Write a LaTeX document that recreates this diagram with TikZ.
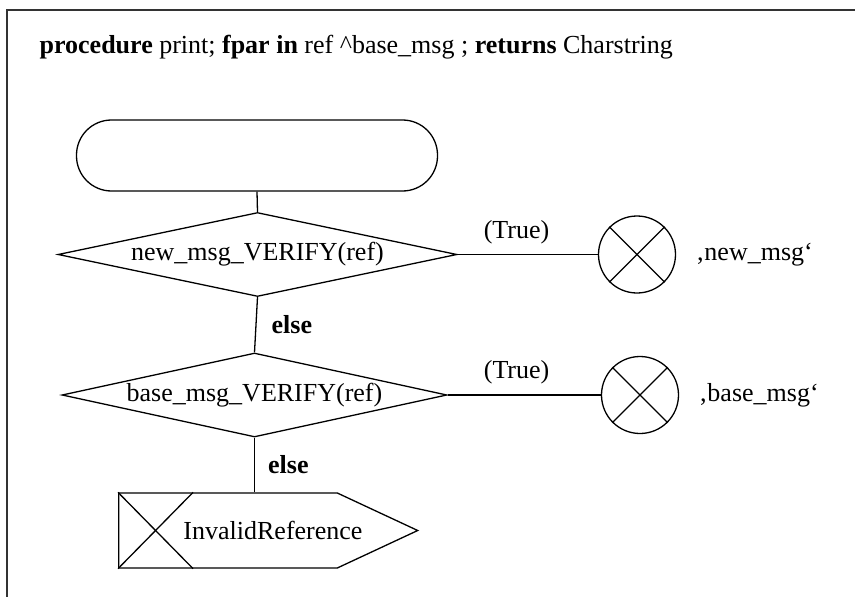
\documentclass[tikz,border=0pt]{standalone}
\usepackage{fontspec}
\setmainfont{Liberation Serif}
\usetikzlibrary{positioning}
\usetikzlibrary{shapes.geometric, shapes.symbols}

\begin{document}
\begin{tikzpicture}[x=1pt, y=-1pt, line width=1.3pt,
    every node/.style={font=\fontsize{26}{31}\selectfont},
    startbox/.style={rectangle, draw, rounded corners=35pt, minimum width=361pt, minimum height=71pt},
    decision/.style={diamond, draw, aspect=4.75, inner sep=0pt, minimum height=84pt},
    stopper/.style={circle, draw, minimum size=77pt, inner sep=0pt},
    outsignal/.style={signal, draw, signal to=east, signal from=nothing, signal pointer angle=50, minimum width=299pt, minimum height=75pt, inner sep=0pt},
    lbl/.style={inner sep=0pt}
]
\useasboundingbox (0,0) rectangle (855,597);

% Frame and heading
\draw[line width=1.6pt, black!80] (7,597) |- (855,10);
\node[lbl, anchor=base west] (head) at (39,53) {\textbf{procedure} print; \textbf{fpar in} ref \textasciicircum base\_msg ; \textbf{returns} Charstring};

% Symbols
\node[startbox] (start) at (257,155.5) {};
\node[decision, minimum width=399pt, label={[lbl]center:new\_msg\_VERIFY(ref)}] (verifynew) at (257.5,254.5) {};
\node[decision, minimum width=385pt, label={[lbl]center:base\_msg\_VERIFY(ref)}] (verifybase) at (254.5,395) {};
\node[stopper] (retnew) at (637,254.5) {};
\node[stopper] (retbase) at (640,395) {};
\node[outsignal, label={[lbl, xshift=45pt]center:InvalidReference}] (invalid) at (228,530.5) {};

% Crosses
\draw (retnew.north west) -- (retnew.south east) (retnew.north east) -- (retnew.south west);
\draw (retbase.north west) -- (retbase.south east) (retbase.north east) -- (retbase.south west);
\draw (invalid.west |- invalid.north) -- ([xshift=75pt]invalid.west |- invalid.south)
      (invalid.west |- invalid.south) -- ([xshift=75pt]invalid.west |- invalid.north);

% Return values
\node[lbl, right=19pt of retnew] (newval) {‚new\_msg‘};
\node[lbl, right=19pt of retbase] (baseval) {‚base\_msg‘};

% Flow lines
\draw (start.south) -- (verifynew.north);
\draw (verifynew.south) -- node[lbl, right=15pt, font=\fontsize{26}{31}\selectfont\bfseries] {else} (verifybase.north);
\draw (verifybase.south) -- node[lbl, right=13pt, font=\fontsize{26}{31}\selectfont\bfseries] {else} (verifybase.south |- invalid.north);
\draw (verifynew.east) -- node[lbl, pos=0.42, above=10pt] {(True)} (retnew.west);
\draw (verifybase.east) -- node[lbl, pos=0.45, above=10pt] {(True)} (retbase.west);

\end{tikzpicture}
\end{document}
